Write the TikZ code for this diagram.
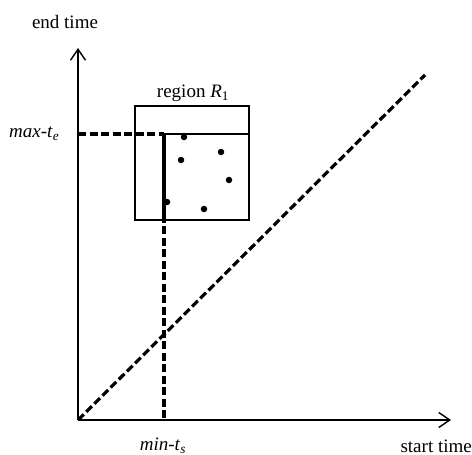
\documentclass[tikz,border=0pt]{standalone}
\usepackage{fontspec}
\setmainfont{Liberation Serif}
\usetikzlibrary{arrows.meta}
\begin{document}
\begin{tikzpicture}[x=1pt,y=-1pt,
  axis/.style={line width=1.5pt,-{Straight Barb[length=11pt,width=15pt,line width=1.4pt]}},
  dash3/.style={line width=3.2pt,dash pattern=on 8pt off 3.5pt},
  lbl/.style={font=\fontsize{19}{22}\selectfont,inner sep=0pt},
  pt/.style={circle,fill=black,inner sep=0pt,minimum size=6.5pt}]
\useasboundingbox (0,0) rectangle (472,455);
\coordinate (O) at (78,420);
\coordinate (ytop) at (78,48);
\coordinate (xend) at (451,420);
\coordinate (diagend) at (425,75);
\coordinate (corner) at (164,134);
\coordinate (leftmax) at (78,134);
\coordinate (rightmax) at (249,134);
\coordinate (minbot) at (164,420);
\coordinate (boxbot) at (164,220);
\node[draw,line width=1.3pt,minimum width=114pt,minimum height=114pt,inner sep=0pt] (box) at (192,163) {};
\draw[axis] (O) -- (ytop);
\draw[axis] (O) -- (xend);
\draw[dash3] (O) -- (diagend);
\draw[dash3] (leftmax) -- (corner);
\draw[dash3] (corner) -- (minbot);
\draw[line width=2.6pt] (corner) -- (rightmax);
\draw[line width=3.2pt] (corner) -- (boxbot);
\node[pt] (p1) at (184,137) {};
\node[pt] (p2) at (181,160) {};
\node[pt] (p3) at (221,152) {};
\node[pt] (p4) at (229,180) {};
\node[pt] (p5) at (167,202) {};
\node[pt] (p6) at (204,209) {};
\node[lbl] (endt) at (65,22) {end time};
\node[lbl] (reg) at (193,93) {region \textit{R}\textsubscript{1}};
\node[lbl,anchor=west] (maxte) at (9,134) {\textit{max-t}\textsubscript{\textit{e}}};
\node[lbl] (mints) at (163,446) {\textit{min-t}\textsubscript{\textit{s}}};
\node[lbl,anchor=east] (startt) at (472,446) {start time};
\end{tikzpicture}
\end{document}
